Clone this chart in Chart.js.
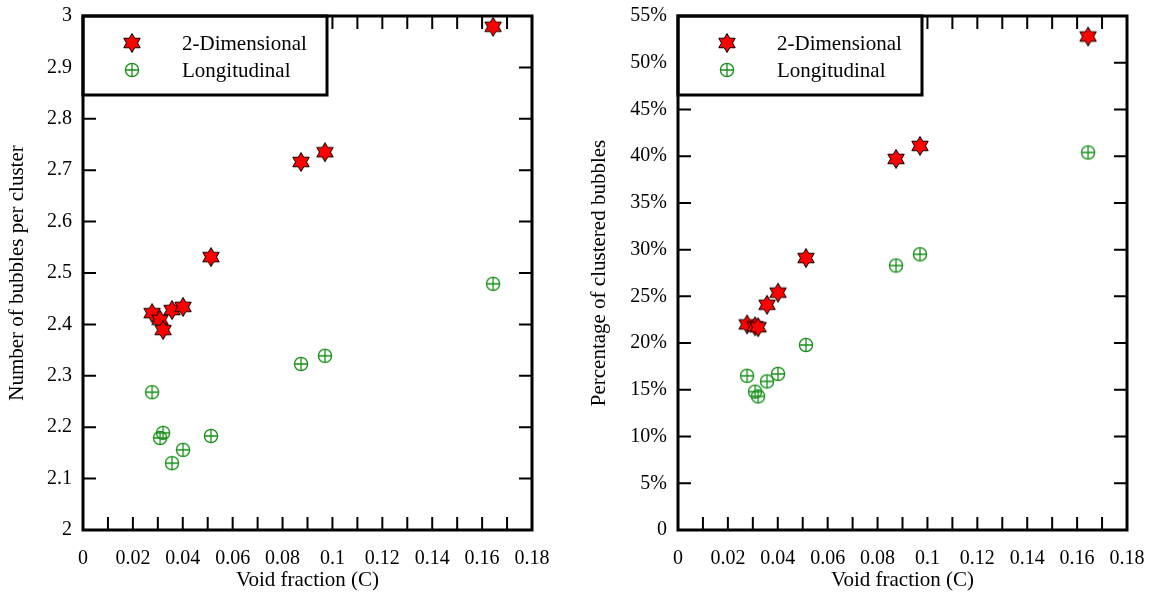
<!DOCTYPE html>
<html>
<head>
<meta charset="utf-8">
<script src="https://cdn.jsdelivr.net/npm/chart.js@4.4.0/dist/chart.umd.min.js"></script>
<style>
body { margin: 0; background: #fff; width: 1155px; height: 599px; position: relative; overflow: hidden; }
#left { position: absolute; left: 0; top: 0; }
#right { position: absolute; left: 577px; top: 0; }
</style>
</head>
<body>
<canvas id="left" width="577" height="599"></canvas>
<canvas id="right" width="578" height="599"></canvas>
<script>
const seriesNames = ['2-Dimensional', 'Longitudinal']
const voidFraction = [0.0277, 0.0309, 0.0321, 0.0357, 0.0401, 0.0513, 0.0874, 0.097, 0.1644]
const bubblesPerCluster2D = [2.422, 2.409, 2.389, 2.428, 2.434, 2.531, 2.716, 2.735, 2.979]
const bubblesPerClusterLong = [2.268, 2.179, 2.189, 2.130, 2.156, 2.183, 2.323, 2.339, 2.479]
const clusteredPct2D = [22.0, 21.8, 21.7, 24.1, 25.4, 29.1, 39.7, 41.1, 52.8]
const clusteredPctLong = [16.5, 14.8, 14.3, 15.9, 16.7, 19.8, 28.3, 29.5, 40.4]

const FONT = "'Liberation Serif', 'Times New Roman', serif"

// red six pointed star with black edge
function starImage() {
    const c = document.createElement('canvas')
    c.width = c.height = 22
    const g = c.getContext('2d')
    g.beginPath()
    for (let i = 0; i < 12; i++) {
        const r = i % 2 === 0 ? 9.5 : 5.5
        const a = -Math.PI / 2 + i * Math.PI / 6
        const px = 11 + r * Math.cos(a), py = 11 + r * Math.sin(a)
        if (i === 0) g.moveTo(px, py); else g.lineTo(px, py)
    }
    g.closePath()
    g.fillStyle = '#ff0000'
    g.fill()
    g.lineWidth = 1
    g.strokeStyle = '#000'
    g.stroke()
    return c
}

// green circle with a plus inside
function crossCircleImage() {
    const c = document.createElement('canvas')
    c.width = c.height = 18
    const g = c.getContext('2d')
    g.strokeStyle = '#168f16'
    g.lineWidth = 1.3
    g.beginPath()
    g.arc(9, 9, 6.6, 0, Math.PI * 2)
    g.moveTo(2.4, 9); g.lineTo(15.6, 9)
    g.moveTo(9, 2.4); g.lineTo(9, 15.6)
    g.stroke()
    return c
}

const starImg = starImage()
const circleImg = crossCircleImage()

function toPoints(ys) {
    return voidFraction.map((v, i) => ({ x: v, y: ys[i] }))
}

// frame, inward ticks and boxed legend
const framePlugin = {
    id: 'frame',
    afterDatasetsDraw(chart) {
        const { ctx, chartArea: a, scales: { x, y } } = chart
        ctx.save()
        ctx.strokeStyle = '#000'
        ctx.lineWidth = 2
        ctx.beginPath()
        x.ticks.forEach(t => {
            if (t.value <= x.min + 1e-9 || t.value >= x.max - 1e-9) return
            const px = x.getPixelForValue(t.value)
            ctx.moveTo(px, a.bottom); ctx.lineTo(px, a.bottom - 13)
            ctx.moveTo(px, a.top); ctx.lineTo(px, a.top + 13)
        })
        y.ticks.forEach(t => {
            if (t.value <= y.min + 1e-9 || t.value >= y.max - 1e-9) return
            const py = y.getPixelForValue(t.value)
            ctx.moveTo(a.left, py); ctx.lineTo(a.left + 13, py)
            ctx.moveTo(a.right, py); ctx.lineTo(a.right - 13, py)
        })
        ctx.stroke()

        // legend box
        const bw = 244, bh = 79
        ctx.fillStyle = '#fff'
        ctx.fillRect(a.left, a.top, bw, bh)
        ctx.lineWidth = 3
        ctx.strokeRect(a.left, a.top, bw, bh)
        ctx.font = '21px ' + FONT
        ctx.fillStyle = '#000'
        ctx.textBaseline = 'middle'
        chart.data.datasets.forEach((ds, i) => {
            const cy = a.top + 27 + i * 27
            const img = ds.pointStyle
            ctx.drawImage(img, a.left + 49 - img.width / 2, cy - img.height / 2)
            ctx.fillText(ds.label, a.left + 99, cy + 1)
        })

        ctx.lineWidth = 3
        ctx.strokeRect(a.left, a.top, a.width, a.height)
        ctx.restore()
    }
}

function makeChart(id, data2D, dataLong, yOpts) {
    return new Chart(document.getElementById(id), {
        type: 'scatter',
        data: {
            datasets: [{
                label: seriesNames[0],
                data: toPoints(data2D),
                pointStyle: starImg,
                pointRadius: 9
            }, {
                label: seriesNames[1],
                data: toPoints(dataLong),
                pointStyle: circleImg,
                pointRadius: 7
            }]
        },
        options: {
            responsive: false,
            animation: false,
            layout: { padding: { left: 0, right: yOpts.padRight, top: 16, bottom: 0 } },
            plugins: { legend: { display: false }, tooltip: { enabled: false } },
            scales: {
                x: {
                    type: 'linear',
                    min: 0,
                    max: 0.18,
                    grid: { display: false, drawTicks: false },
                    border: { display: false },
                    ticks: {
                        stepSize: 0.01,
                        autoSkip: false,
                        maxRotation: 0,
                        padding: 17,
                        color: '#000',
                        font: { family: FONT, size: 20 },
                        callback: v => Math.round(v * 100) % 2 === 0 ? String(+v.toFixed(2)) : ''
                    },
                    title: {
                        display: true,
                        text: 'Void fraction (C)',
                        color: '#000',
                        font: { family: FONT, size: 21 },
                        padding: { top: 0, bottom: 6 }
                    },
                    afterFit: s => { s.height = 69; s.paddingLeft = 0; s.paddingRight = 0 }
                },
                y: {
                    type: 'linear',
                    min: yOpts.min,
                    max: yOpts.max,
                    grid: { display: false, drawTicks: false },
                    border: { display: false },
                    ticks: {
                        stepSize: yOpts.step,
                        autoSkip: false,
                        padding: 11,
                        color: '#000',
                        font: { family: FONT, size: 20 },
                        callback: yOpts.fmt
                    },
                    title: {
                        display: true,
                        text: yOpts.title,
                        color: '#000',
                        font: { family: FONT, size: 21 },
                        padding: { top: yOpts.titlePad, bottom: 0 }
                    },
                    afterFit: s => { s.width = yOpts.width; s.paddingTop = 0; s.paddingBottom = 0 }
                }
            }
        },
        plugins: [framePlugin]
    })
}

makeChart('left', bubblesPerCluster2D, bubblesPerClusterLong, {
    min: 2, max: 3, step: 0.1,
    fmt: v => String(+v.toFixed(1)),
    title: 'Number of bubbles per cluster',
    titlePad: 5, width: 83, padRight: 45
})

makeChart('right', clusteredPct2D, clusteredPctLong, {
    min: 0, max: 55, step: 5,
    fmt: v => v === 0 ? '0' : Math.round(v) + '%',
    title: 'Percentage of clustered bubbles',
    titlePad: 10, width: 101, padRight: 28
})
</script>
</body>
</html>
